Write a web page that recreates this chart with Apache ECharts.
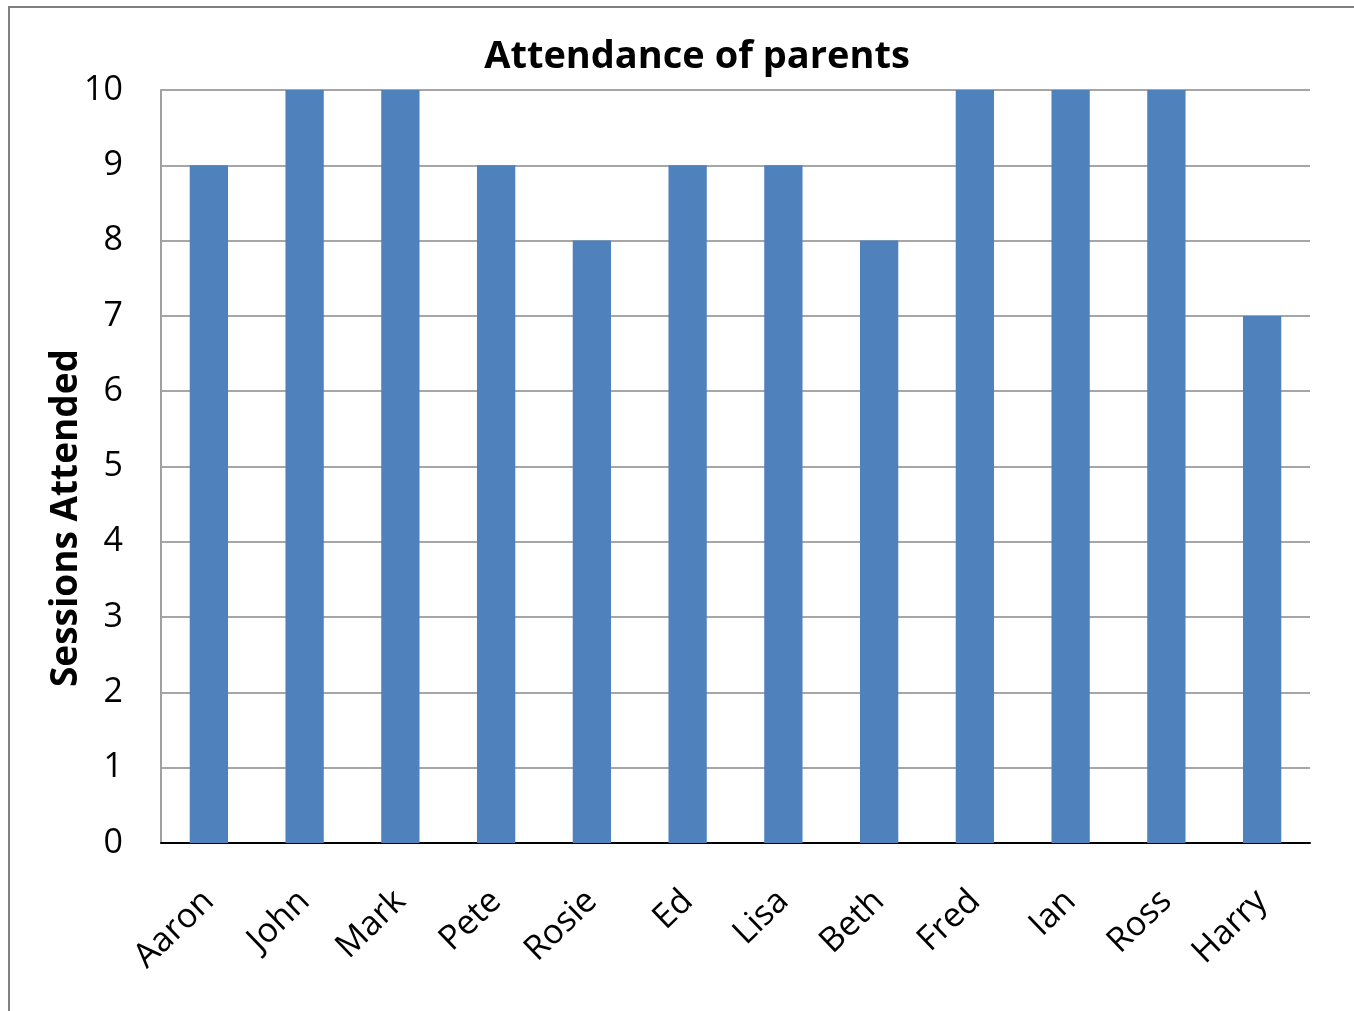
<!DOCTYPE html>
<html><head><meta charset="utf-8">
<script src="https://cdn.jsdelivr.net/npm/echarts@6/dist/echarts.min.js"></script>
<style>html,body{margin:0;padding:0;background:#fff}#c{width:1354px;height:1011px}
#frame{position:absolute;left:8px;top:6px;width:1400px;height:1100px;border-left:2px solid #808080;border-top:2px solid #808080;pointer-events:none}</style>
</head><body><div id="c"></div><div id="frame"></div>
<script>
const categories = ["Aaron","John","Mark","Pete","Rosie","Ed","Lisa","Beth","Fred","Ian","Ross","Harry"];
const sessions = [9,10,10,9,8,9,9,8,10,10,10,7];
const yTicks = [0,1,2,3,4,5,6,7,8,9,10];
const yName = "Sessions Attended";
const font = "'Open Sans', sans-serif";
const chart = echarts.init(document.getElementById('c'));
chart.setOption({
  animation:false,
  title:{text:"Attendance of parents",left:692,textAlign:'center',top:33,textStyle:{fontFamily:font,fontSize:38,fontWeight:'bold',color:'#000'}},
  grid:{left:161,right:44,top:90,bottom:168},
  graphic:[{type:'text',x:66,y:518,rotation:Math.PI/2,
    style:{text:yName,fontFamily:font,fontSize:37,fontWeight:'bold',fill:'#000',align:'center',verticalAlign:'middle'}}],
  xAxis:{type:'category',data:categories,
    axisLine:{lineStyle:{color:'#000',width:2}},axisTick:{show:false},
    axisLabel:{rotate:44,fontFamily:font,fontSize:34,color:'#000',margin:53,interval:0}},
  yAxis:{type:'value',min:yTicks[0],max:yTicks[yTicks.length-1],interval:1,
    axisLine:{show:true,lineStyle:{color:'#a0a0a0',width:2}},axisTick:{show:false},
    axisLabel:{fontFamily:font,fontSize:34,color:'#000',margin:38},
    splitLine:{lineStyle:{color:'#a6a6a6',width:2}}},
  series:[{type:'bar',data:sessions,barWidth:'40%',itemStyle:{color:'#4f81bd'}}]
});
</script></body></html>
